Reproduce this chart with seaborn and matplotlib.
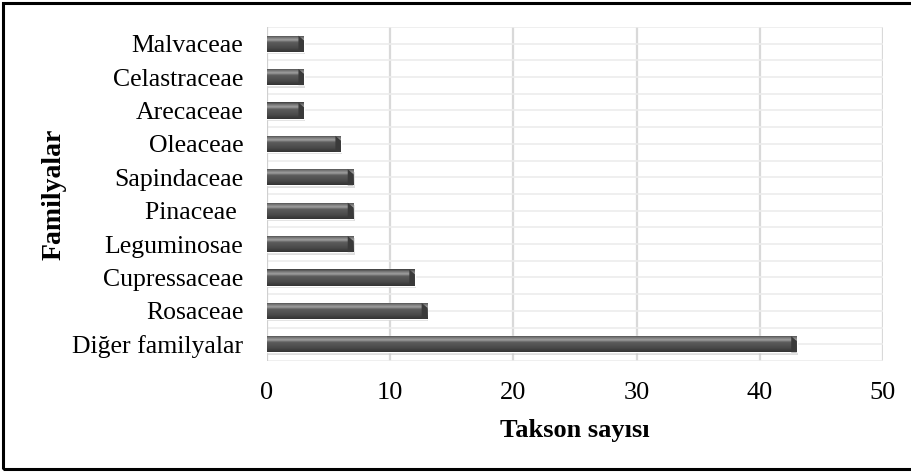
import numpy as np
import pandas as pd
import matplotlib
matplotlib.use("Agg")
import matplotlib.pyplot as plt
import seaborn as sns
from matplotlib.colors import LinearSegmentedColormap
from matplotlib.patches import Rectangle, Polygon

categories = ["Malvaceae", "Celastraceae", "Arecaceae", "Oleaceae", "Sapindaceae",
              "Pinaceae ", "Leguminosae", "Cupressaceae", "Rosaceae", "Diğer familyalar"]
values = [3, 3, 3, 6, 7, 7, 7, 12, 13, 43]
x_ticks = [0, 10, 20, 30, 40, 50]

df = pd.DataFrame({"Familyalar": categories, "Takson sayısı": values})

sns.set_theme(style="white")
plt.rcParams["font.family"] = ["Liberation Serif", "DejaVu Serif"]

fig = plt.figure(figsize=(9.12, 4.72), dpi=100)
ax = fig.add_axes([0.2928, 0.2352, 0.6754, 0.7076])

sns.barplot(data=df, y="Familyalar", x="Takson sayısı", orient="h",
            color="#4d4d4d", width=0.48, ax=ax, zorder=3)

ax.set_xlim(0, 50)
ax.set_ylim(len(categories) - 0.5, -0.5)
ax.set_xticks(x_ticks)
ax.set_xticklabels([str(t) for t in x_ticks])

# grid lines
for t in x_ticks[1:]:
    ax.axvline(t, color="#d9d9d9", lw=1.6, zorder=1)
for k in np.arange(-0.5, len(categories), 0.5):
    ax.axhline(k, color="#ececec", lw=1.2, zorder=1)
ax.axvline(0, color="#d0d0d0", lw=1.6, zorder=2)

for s in ax.spines.values():
    s.set_visible(False)

# cylinder-like shading clipped to each bar
cmap = LinearSegmentedColormap.from_list(
    "bar", [(0.0, "#3c3c3c"), (0.12, "#707070"), (0.28, "#a0a0a0"),
            (0.42, "#5c5c5c"), (0.75, "#4a4a4a"), (1.0, "#333333")])
grad = np.linspace(0, 1, 64).reshape(-1, 1)
for p in list(ax.patches):
    x0, y0 = p.get_x(), p.get_y()
    w, h = p.get_width(), p.get_height()
    sh = Rectangle((x0 + 0.1, y0 + h * 0.15), w, h, facecolor="#c8c8c8",
                   edgecolor="none", alpha=0.6, zorder=2.5)
    ax.add_patch(sh)
    im = ax.imshow(grad, cmap=cmap, aspect="auto", origin="upper",
                   extent=[x0, x0 + w, y0 + h, y0], zorder=4, interpolation="bilinear")
    im.set_clip_path(p)
    d = 0.45
    cap = Polygon([(x0 + w - d, y0), (x0 + w, y0 + h * 0.3), (x0 + w, y0 + h),
                   (x0 + w - d, y0 + h)], closed=True, facecolor="#3a3a3a",
                  edgecolor="none", zorder=5)
    ax.add_patch(cap)
ax.set_xlim(0, 50)
ax.set_ylim(len(categories) - 0.5, -0.5)

ax.tick_params(axis="y", length=0, pad=17, labelsize=18.5, colors="black")
ax.tick_params(axis="x", length=0, pad=15, labelsize=19, colors="black")
ax.set_ylabel("Familyalar", fontsize=20, fontweight="bold", labelpad=4, color="black")
ax.set_xlabel("Takson sayısı", fontsize=19, fontweight="bold", labelpad=11, color="black")

fig.patches.append(Rectangle((0.0035, 0.006), 1.1, 0.9885, transform=fig.transFigure,
                             fill=False, edgecolor="black", lw=2.2, zorder=10))

fig.savefig("out.png", dpi=100)
